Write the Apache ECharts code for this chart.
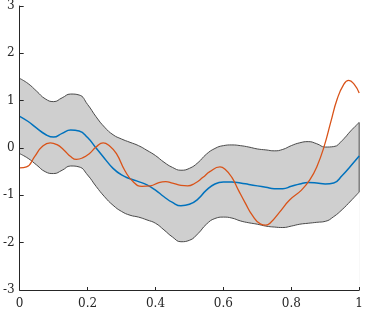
<!DOCTYPE html>
<html>
<head>
<meta charset="utf-8">
<script src="https://cdn.jsdelivr.net/npm/echarts@6/dist/echarts.min.js"></script>
<style>
html,body{margin:0;padding:0;background:#fff;}
#chart{width:366px;height:310px;}
</style>
</head>
<body>
<div id="chart"></div>
<script>
var xBand = [0,0.025,0.05,0.075,0.1,0.125,0.15,0.175,0.2,0.225,0.25,0.275,0.3,0.325,0.35,0.375,0.4,0.425,0.45,0.475,0.5,0.525,0.55,0.575,0.6,0.625,0.65,0.675,0.7,0.725,0.75,0.775,0.8,0.825,0.85,0.875,0.9,0.925,0.95,0.975,1.0];
var upper = [1.47,1.36,1.20,1.04,0.98,1.06,1.14,1.12,0.92,0.66,0.44,0.28,0.19,0.12,0.05,-0.05,-0.16,-0.30,-0.41,-0.47,-0.43,-0.31,-0.13,-0.01,0.05,0.065,0.05,0.02,-0.02,-0.04,-0.06,-0.03,0.05,0.11,0.135,0.09,0.02,0.03,0.16,0.36,0.54];
var lower = [-0.12,-0.22,-0.36,-0.50,-0.54,-0.47,-0.38,-0.40,-0.57,-0.81,-1.03,-1.21,-1.34,-1.42,-1.46,-1.52,-1.59,-1.73,-1.88,-1.98,-1.95,-1.81,-1.61,-1.49,-1.46,-1.48,-1.54,-1.58,-1.61,-1.65,-1.67,-1.68,-1.65,-1.61,-1.59,-1.57,-1.55,-1.45,-1.30,-1.12,-0.93];
var meanVals = [0.67,0.56,0.42,0.29,0.23,0.31,0.38,0.36,0.22,0.0,-0.22,-0.43,-0.57,-0.65,-0.71,-0.78,-0.89,-1.03,-1.15,-1.22,-1.19,-1.08,-0.89,-0.76,-0.72,-0.72,-0.74,-0.77,-0.80,-0.83,-0.86,-0.86,-0.81,-0.76,-0.73,-0.74,-0.76,-0.74,-0.58,-0.38,-0.17];
var xSample = [0,0.02,0.045,0.065,0.09,0.11,0.13,0.15,0.167,0.185,0.205,0.225,0.246,0.265,0.285,0.31,0.335,0.36,0.385,0.41,0.43,0.45,0.475,0.495,0.515,0.54,0.56,0.59,0.605,0.625,0.645,0.665,0.685,0.71,0.725,0.74,0.765,0.795,0.83,0.855,0.875,0.897,0.916,0.935,0.955,0.969,0.985,1.0];
var sample = [-0.42,-0.40,-0.17,0.02,0.11,0.07,-0.04,-0.18,-0.24,-0.21,-0.12,0.02,0.11,0.04,-0.12,-0.48,-0.72,-0.81,-0.80,-0.73,-0.71,-0.74,-0.79,-0.80,-0.75,-0.62,-0.50,-0.40,-0.45,-0.62,-0.90,-1.17,-1.42,-1.61,-1.63,-1.57,-1.36,-1.10,-0.89,-0.67,-0.40,0.04,0.54,1.03,1.35,1.43,1.35,1.16];
var xTicks = [0,0.2,0.4,0.6,0.8,1];
var yTicks = [-3,-2,-1,0,1,2,3];

function pairs(xs, ys){ return xs.map(function(x,i){ return [x, ys[i]]; }); }
var last = xBand.length - 1;

var axisColor = '#262626';
var labelFont = {fontFamily:'DejaVu Serif', fontSize:12, color:axisColor};
var outline = '#4a4a4a';

var chart = echarts.init(document.getElementById('chart'), null, {renderer:'canvas'});
chart.setOption({
  animation:false,
  backgroundColor:'#ffffff',
  grid:{left:17.5, right:3.7, top:6, bottom:19, containLabel:false},
  xAxis:{
    type:'value', min:xTicks[0], max:xTicks[xTicks.length-1], interval:0.2, z:20,
    axisLine:{show:true, onZero:false, lineStyle:{color:axisColor, width:1}},
    axisTick:{show:true, inside:true, length:3, lineStyle:{color:axisColor}},
    axisLabel:Object.assign({margin:8, showMinLabel:true, showMaxLabel:true}, labelFont),
    splitLine:{show:false}
  },
  yAxis:{
    type:'value', min:yTicks[0], max:yTicks[yTicks.length-1], interval:1, z:20,
    axisLine:{show:true, onZero:false, lineStyle:{color:axisColor, width:1}},
    axisTick:{show:true, inside:true, length:4, lineStyle:{color:axisColor}},
    axisLabel:Object.assign({margin:5}, labelFont),
    splitLine:{show:false}
  },
  series:[
    {name:'upperFill', type:'line', data:pairs(xBand, upper), symbol:'none', smooth:true, silent:true,
     lineStyle:{opacity:0}, areaStyle:{color:'#cfcfcf', opacity:1, origin:'start'}, z:1},
    {name:'lowerMask', type:'line', data:pairs(xBand, lower), symbol:'none', smooth:true, silent:true,
     lineStyle:{opacity:0}, areaStyle:{color:'#ffffff', opacity:1, origin:'start'}, z:2},
    {name:'upper', type:'line', data:pairs(xBand, upper), symbol:'none', smooth:true, silent:true,
     lineStyle:{color:outline, width:1}, z:3},
    {name:'lower', type:'line', data:pairs(xBand, lower), symbol:'none', smooth:true, silent:true,
     lineStyle:{color:outline, width:1}, z:3},
    {name:'edge', type:'line', data:[[xBand[last], lower[last]],[xBand[last], upper[last]]], symbol:'none', silent:true,
     lineStyle:{color:outline, width:1}, z:3},
    {name:'mean', type:'line', data:pairs(xBand, meanVals), symbol:'none', smooth:true, silent:true,
     lineStyle:{color:'#0072BD', width:1.5}, z:4},
    {name:'sample', type:'line', data:pairs(xSample, sample), symbol:'none', smooth:true, silent:true,
     lineStyle:{color:'#D95319', width:1.3}, z:5}
  ]
});
</script>
</body>
</html>
